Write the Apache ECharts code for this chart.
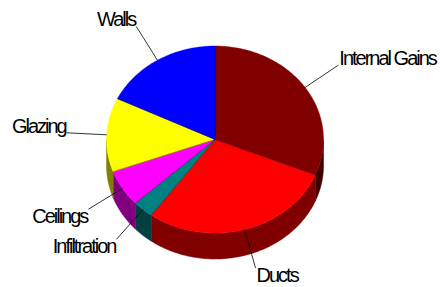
<!DOCTYPE html>
<html>
<head>
<meta charset="utf-8">
<script src="https://cdn.jsdelivr.net/npm/echarts@6/dist/echarts.min.js"></script>
<style>
html, body { margin: 0; padding: 0; background: #fff; }
#main { width: 440px; height: 287px; }
/* the labels in the picture are set very tight */
#main text { letter-spacing: -2px; }
</style>
</head>
<body>
<div id="main"></div>
<script>
// slices, clockwise from 12 o'clock
var categories = ['Internal Gains', 'Ducts', 'Infiltration', 'Ceilings', 'Glazing', 'Walls'];
var values = [31.2, 28.8, 3.1, 6.3, 12.8, 17.8];
var topColors = ['#800000', '#ff0000', '#008080', '#ff00ff', '#ffff00', '#0000ff'];
var sideColors = ['#400000', '#800000', '#004040', '#800080', '#808000', '#000080'];

var pie = { cx: 215, cy: 139.5, rx: 108.5, ry: 93.5, depth: 26, leader: 40 };

var total = 0;
var starts = [];
for (var k = 0; k < values.length; k++) {
	starts.push(total);
	total += values[k];
}
for (var k = 0; k < starts.length; k++) {
	starts[k] = starts[k] / total * Math.PI * 2;
}

function pt(a, dy) {
	return [pie.cx + pie.rx * Math.sin(a), pie.cy - pie.ry * Math.cos(a) + (dy || 0)];
}
function arc(a0, a1, dy) {
	var n = Math.max(2, Math.ceil((a1 - a0) / (Math.PI / 180)));
	var pts = [];
	for (var i = 0; i <= n; i++) {
		pts.push(pt(a0 + (a1 - a0) * i / n, dy));
	}
	return pts;
}

function renderSlice(params, api) {
	var i = params.dataIndex;
	var a0 = starts[i];
	var a1 = a0 + api.value(0) / total * Math.PI * 2;
	var children = [];

	// side wall, only the front half shows
	var s = Math.max(a0, Math.PI / 2);
	var e = Math.min(a1, Math.PI * 3 / 2);
	if (e > s) {
		var side = arc(s, e, 0).concat(arc(s, e, pie.depth).reverse());
		children.push({
			type: 'polygon', z2: 1,
			shape: { points: side },
			style: { fill: sideColors[i], stroke: sideColors[i], lineWidth: 0.5 }
		});
	}

	// top face
	var top = [[pie.cx, pie.cy]].concat(arc(a0, a1, 0));
	children.push({
		type: 'polygon', z2: 2,
		shape: { points: top },
		style: { fill: topColors[i], stroke: topColors[i], lineWidth: 0.4 }
	});
	var edge = pt(a0, 0);
	children.push({
		type: 'line', z2: 3,
		shape: { x1: pie.cx, y1: pie.cy, x2: edge[0], y2: edge[1] },
		style: { stroke: 'rgba(0,0,0,0.55)', lineWidth: 0.7 }
	});

	// leader + label
	var m = (a0 + a1) / 2;
	var p = pt(m, 0);
	var q = [p[0] + pie.leader * Math.sin(m), p[1] - pie.leader * Math.cos(m)];
	children.push({
		type: 'line', z2: 4,
		shape: { x1: p[0], y1: p[1], x2: q[0], y2: q[1] },
		style: { stroke: '#000', lineWidth: 0.8 }
	});
	var right = Math.sin(m) > 0;
	var upper = q[1] < pie.cy;
	children.push({
		type: 'text', z2: 5,
		x: right ? q[0] + 1 : q[0] - 1,
		y: upper ? q[1] + 3 : q[1] - 3,
		style: {
			text: categories[i],
			fill: '#000',
			font: '20px "Liberation Sans", Arial, sans-serif',
			align: right ? 'left' : 'right',
			verticalAlign: upper ? 'bottom' : 'top'
		}
	});

	return { type: 'group', children: children };
}

var chart = echarts.init(document.getElementById('main'), null, { renderer: 'svg' });
chart.setOption({
	animation: false,
	series: [{
		type: 'custom',
		coordinateSystem: 'none',
		renderItem: renderSlice,
		data: values.map(function (v, i) { return { name: categories[i], value: v }; })
	}]
});
</script>
</body>
</html>
